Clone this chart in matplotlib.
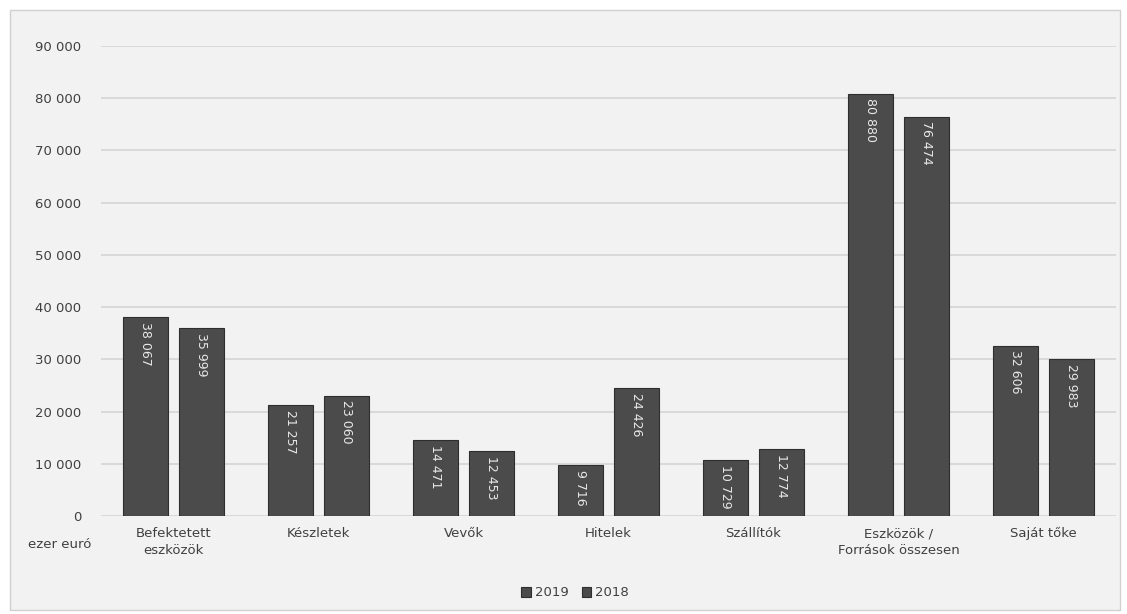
import numpy as np
import matplotlib.pyplot as plt
from matplotlib.patches import Rectangle

categories = ["Befektetett\neszközök", "Készletek", "Vevők", "Hitelek", "Szállítók",
              "Eszközök /\nForrások összesen", "Saját tőke"]
values_2019 = [38067, 21257, 14471, 9716, 10729, 80880, 32606]
values_2018 = [35999, 23060, 12453, 24426, 12774, 76474, 29983]
series_labels = ["2019", "2018"]
y_ticks = [0, 10000, 20000, 30000, 40000, 50000, 60000, 70000, 80000, 90000]


def fmt(v):
    return f"{v:,}".replace(",", " ")


fig = plt.figure(figsize=(11.27, 6.14), dpi=100)
fig.patch.set_facecolor("white")
fig.patches.append(Rectangle((10 / 1127, 4 / 614), 1110 / 1127, 600 / 614,
                             transform=fig.transFigure, facecolor="#f2f2f2",
                             edgecolor="#d0d0d0", linewidth=1, zorder=-10))

ax = fig.add_axes([101 / 1127, 1 - 516 / 614, 1015 / 1127, 470 / 614])
ax.set_facecolor("none")

x = np.arange(len(categories))
w = 0.31
off = 0.193
bar_color = "#4b4b4b"
b1 = ax.bar(x - off, values_2019, w, color=bar_color, edgecolor="#2e2e2e", linewidth=0.8,
            label=series_labels[0], zorder=3)
b2 = ax.bar(x + off, values_2018, w, color=bar_color, edgecolor="#2e2e2e", linewidth=0.8,
            label=series_labels[1], zorder=3)

for bars, vals in [(b1, values_2019), (b2, values_2018)]:
    for rect, v in zip(bars, vals):
        ax.text(rect.get_x() + rect.get_width() / 2, v - 900, fmt(v), rotation=270,
                ha="center", va="top", color="#e8e8e8", fontsize=9, zorder=4)

ax.set_xlim(-0.5, len(categories) - 0.5)
ax.set_ylim(0, 90000)
ax.set_yticks(y_ticks)
ax.set_yticklabels([fmt(t) for t in y_ticks], color="#404040", fontsize=9.5)
ax.yaxis.grid(True, color="#d4d4d4", linewidth=1.2, zorder=0)
ax.set_axisbelow(True)
ax.set_xticks(x)
ax.set_xticklabels(categories, color="#404040", fontsize=9.5, linespacing=1.4)
ax.tick_params(axis="both", length=0, pad=14)
ax.tick_params(axis="x", pad=8)
for s in ax.spines.values():
    s.set_visible(False)

fig.text(60 / 1127, 1 - 544 / 614, "ezer euró", ha="center", va="center",
         color="#404040", fontsize=9.5)

fig.legend(handles=[b1, b2], labels=series_labels, loc="center", ncol=2,
           bbox_to_anchor=(575 / 1127, 1 - 593 / 614), frameon=False, fontsize=9.5,
           handlelength=0.7, handleheight=0.7, handletextpad=0.3, columnspacing=1.0,
           labelcolor="#404040")

fig.savefig("out.png", dpi=100)
